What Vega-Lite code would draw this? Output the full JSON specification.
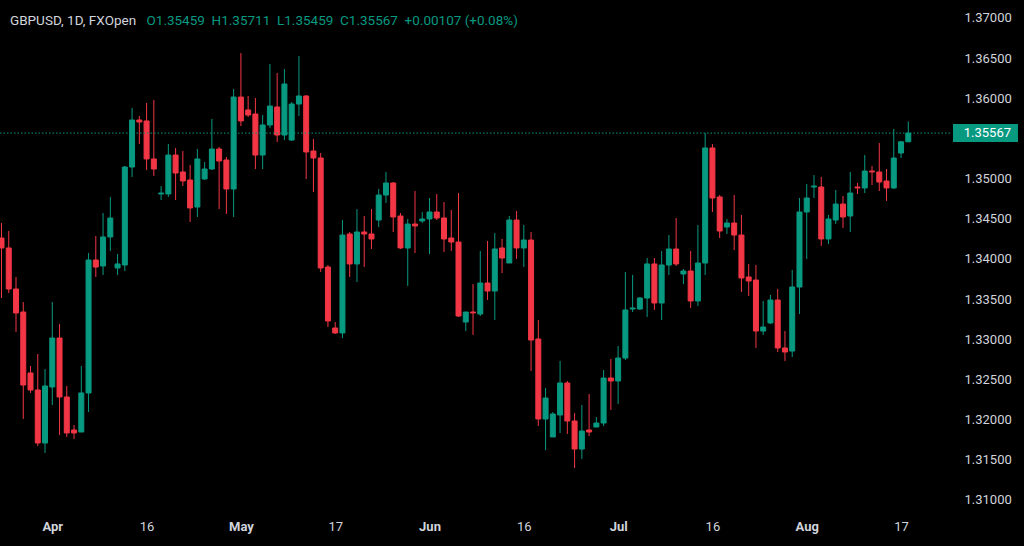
{
  "$schema": "https://vega.github.io/schema/vega-lite/v6.json",
  "width": 950,
  "height": 510,
  "autosize": {"type": "none"},
  "padding": {"left": 0, "top": 0, "right": 74, "bottom": 36},
  "background": "#000000",
  "title": {
    "text": "GBPUSD, 1D, FXOpen",
    "anchor": "start",
    "frame": "group",
    "dx": 10,
    "offset": -27,
    "color": "#d1d4dc",
    "font": "Roboto",
    "fontSize": 13.5,
    "fontWeight": "normal"
  },
  "data": {
    "values": [
      {"i": 0, "open": 1.34261, "high": 1.34448, "low": 1.33514, "close": 1.34137},
      {"i": 1, "open": 1.34137, "high": 1.34348, "low": 1.33576, "close": 1.33626},
      {"i": 2, "open": 1.33626, "high": 1.33776, "low": 1.33091, "close": 1.33328},
      {"i": 3, "open": 1.3334, "high": 1.33464, "low": 1.32008, "close": 1.32431},
      {"i": 4, "open": 1.32581, "high": 1.32668, "low": 1.32332, "close": 1.32369},
      {"i": 5, "open": 1.32369, "high": 1.32817, "low": 1.31672, "close": 1.31709},
      {"i": 6, "open": 1.31709, "high": 1.3263, "low": 1.31585, "close": 1.32419},
      {"i": 7, "open": 1.32406, "high": 1.33464, "low": 1.32182, "close": 1.33016},
      {"i": 8, "open": 1.33016, "high": 1.33191, "low": 1.31809, "close": 1.32282},
      {"i": 9, "open": 1.32282, "high": 1.32419, "low": 1.31784, "close": 1.31834},
      {"i": 10, "open": 1.31871, "high": 1.31933, "low": 1.31759, "close": 1.31834},
      {"i": 11, "open": 1.31846, "high": 1.32668, "low": 1.31846, "close": 1.32332},
      {"i": 12, "open": 1.32332, "high": 1.34074, "low": 1.32095, "close": 1.33987},
      {"i": 13, "open": 1.33987, "high": 1.34286, "low": 1.33776, "close": 1.339},
      {"i": 14, "open": 1.33913, "high": 1.34572, "low": 1.33801, "close": 1.34274},
      {"i": 15, "open": 1.34274, "high": 1.34772, "low": 1.34099, "close": 1.3451},
      {"i": 16, "open": 1.33888, "high": 1.34062, "low": 1.33801, "close": 1.33938},
      {"i": 17, "open": 1.33925, "high": 1.35158, "low": 1.3385, "close": 1.35145},
      {"i": 18, "open": 1.35145, "high": 1.3588, "low": 1.35021, "close": 1.3573},
      {"i": 19, "open": 1.3573, "high": 1.3578, "low": 1.35431, "close": 1.35705},
      {"i": 20, "open": 1.35718, "high": 1.35942, "low": 1.35108, "close": 1.35245},
      {"i": 21, "open": 1.35245, "high": 1.35979, "low": 1.35033, "close": 1.3512},
      {"i": 22, "open": 1.34809, "high": 1.34908, "low": 1.34734, "close": 1.34821},
      {"i": 23, "open": 1.34809, "high": 1.35431, "low": 1.34772, "close": 1.35294},
      {"i": 24, "open": 1.35294, "high": 1.35382, "low": 1.34734, "close": 1.3507},
      {"i": 25, "open": 1.35083, "high": 1.35344, "low": 1.34908, "close": 1.34971},
      {"i": 26, "open": 1.34983, "high": 1.3517, "low": 1.3446, "close": 1.34635},
      {"i": 27, "open": 1.34647, "high": 1.35369, "low": 1.34523, "close": 1.35245},
      {"i": 28, "open": 1.34996, "high": 1.35207, "low": 1.34983, "close": 1.3512},
      {"i": 29, "open": 1.3512, "high": 1.35743, "low": 1.35108, "close": 1.35369},
      {"i": 30, "open": 1.35369, "high": 1.35394, "low": 1.34622, "close": 1.3522},
      {"i": 31, "open": 1.35232, "high": 1.3527, "low": 1.3456, "close": 1.34871},
      {"i": 32, "open": 1.34871, "high": 1.36116, "low": 1.34523, "close": 1.36016},
      {"i": 33, "open": 1.36016, "high": 1.36564, "low": 1.35655, "close": 1.35718},
      {"i": 34, "open": 1.35855, "high": 1.36029, "low": 1.35768, "close": 1.35792},
      {"i": 35, "open": 1.35805, "high": 1.36004, "low": 1.3512, "close": 1.35294},
      {"i": 36, "open": 1.35294, "high": 1.35792, "low": 1.3512, "close": 1.35668},
      {"i": 37, "open": 1.35668, "high": 1.36427, "low": 1.35631, "close": 1.35904},
      {"i": 38, "open": 1.35892, "high": 1.36315, "low": 1.35456, "close": 1.35543},
      {"i": 39, "open": 1.35543, "high": 1.36365, "low": 1.35481, "close": 1.36178},
      {"i": 40, "open": 1.35481, "high": 1.35954, "low": 1.35469, "close": 1.35929},
      {"i": 41, "open": 1.35929, "high": 1.36527, "low": 1.3578, "close": 1.36029},
      {"i": 42, "open": 1.36029, "high": 1.36041, "low": 1.34996, "close": 1.35332},
      {"i": 43, "open": 1.35344, "high": 1.35494, "low": 1.34834, "close": 1.35257},
      {"i": 44, "open": 1.35257, "high": 1.35319, "low": 1.33838, "close": 1.33888},
      {"i": 45, "open": 1.339, "high": 1.33925, "low": 1.33153, "close": 1.33228},
      {"i": 46, "open": 1.33141, "high": 1.33215, "low": 1.33066, "close": 1.33079},
      {"i": 47, "open": 1.33079, "high": 1.34485, "low": 1.33016, "close": 1.34298},
      {"i": 48, "open": 1.34311, "high": 1.34336, "low": 1.33776, "close": 1.33938},
      {"i": 49, "open": 1.33938, "high": 1.34622, "low": 1.33713, "close": 1.34336},
      {"i": 50, "open": 1.34336, "high": 1.34535, "low": 1.339, "close": 1.34311},
      {"i": 51, "open": 1.34311, "high": 1.34622, "low": 1.34124, "close": 1.34249},
      {"i": 52, "open": 1.34485, "high": 1.34871, "low": 1.34398, "close": 1.34796},
      {"i": 53, "open": 1.34796, "high": 1.35083, "low": 1.34697, "close": 1.34946},
      {"i": 54, "open": 1.34946, "high": 1.34958, "low": 1.34336, "close": 1.34523},
      {"i": 55, "open": 1.34535, "high": 1.34572, "low": 1.34124, "close": 1.34137},
      {"i": 56, "open": 1.34137, "high": 1.34498, "low": 1.33664, "close": 1.34435},
      {"i": 57, "open": 1.34435, "high": 1.34846, "low": 1.34074, "close": 1.34411},
      {"i": 58, "open": 1.34473, "high": 1.34585, "low": 1.34448, "close": 1.34498},
      {"i": 59, "open": 1.34498, "high": 1.34759, "low": 1.34062, "close": 1.34585},
      {"i": 60, "open": 1.34585, "high": 1.34809, "low": 1.34485, "close": 1.3451},
      {"i": 61, "open": 1.3451, "high": 1.34709, "low": 1.34087, "close": 1.34249},
      {"i": 62, "open": 1.34261, "high": 1.3461, "low": 1.34099, "close": 1.34211},
      {"i": 63, "open": 1.34211, "high": 1.34821, "low": 1.33278, "close": 1.3329},
      {"i": 64, "open": 1.33215, "high": 1.3334, "low": 1.33103, "close": 1.3334},
      {"i": 65, "open": 1.3334, "high": 1.33688, "low": 1.33054, "close": 1.33328},
      {"i": 66, "open": 1.33315, "high": 1.34099, "low": 1.3329, "close": 1.33701},
      {"i": 67, "open": 1.33701, "high": 1.34224, "low": 1.33489, "close": 1.33601},
      {"i": 68, "open": 1.33601, "high": 1.34323, "low": 1.3324, "close": 1.34124},
      {"i": 69, "open": 1.34137, "high": 1.34249, "low": 1.33825, "close": 1.34012},
      {"i": 70, "open": 1.3395, "high": 1.34535, "low": 1.3395, "close": 1.34485},
      {"i": 71, "open": 1.34485, "high": 1.34597, "low": 1.34, "close": 1.34137},
      {"i": 72, "open": 1.34137, "high": 1.34423, "low": 1.339, "close": 1.34236},
      {"i": 73, "open": 1.34236, "high": 1.34336, "low": 1.32605, "close": 1.32991},
      {"i": 74, "open": 1.33004, "high": 1.3324, "low": 1.31921, "close": 1.32008},
      {"i": 75, "open": 1.32008, "high": 1.32394, "low": 1.31622, "close": 1.32269},
      {"i": 76, "open": 1.31784, "high": 1.32095, "low": 1.31784, "close": 1.3207},
      {"i": 77, "open": 1.32058, "high": 1.3273, "low": 1.31834, "close": 1.32456},
      {"i": 78, "open": 1.32456, "high": 1.32481, "low": 1.31821, "close": 1.31983},
      {"i": 79, "open": 1.31983, "high": 1.32083, "low": 1.31398, "close": 1.31634},
      {"i": 80, "open": 1.31634, "high": 1.32182, "low": 1.3151, "close": 1.31858},
      {"i": 81, "open": 1.31871, "high": 1.32319, "low": 1.31796, "close": 1.31846},
      {"i": 82, "open": 1.31908, "high": 1.32033, "low": 1.31908, "close": 1.31958},
      {"i": 83, "open": 1.31958, "high": 1.32618, "low": 1.31921, "close": 1.32518},
      {"i": 84, "open": 1.32518, "high": 1.32755, "low": 1.3212, "close": 1.32481},
      {"i": 85, "open": 1.32481, "high": 1.32917, "low": 1.32195, "close": 1.32767},
      {"i": 86, "open": 1.32767, "high": 1.33838, "low": 1.32742, "close": 1.33365},
      {"i": 87, "open": 1.33377, "high": 1.33801, "low": 1.3334, "close": 1.3339},
      {"i": 88, "open": 1.33377, "high": 1.33527, "low": 1.33365, "close": 1.33514},
      {"i": 89, "open": 1.33514, "high": 1.34012, "low": 1.33278, "close": 1.33938},
      {"i": 90, "open": 1.33938, "high": 1.34012, "low": 1.33365, "close": 1.33452},
      {"i": 91, "open": 1.33452, "high": 1.34099, "low": 1.3324, "close": 1.33925},
      {"i": 92, "open": 1.33925, "high": 1.34298, "low": 1.33801, "close": 1.34124},
      {"i": 93, "open": 1.34124, "high": 1.3451, "low": 1.33913, "close": 1.33938},
      {"i": 94, "open": 1.33813, "high": 1.33875, "low": 1.33688, "close": 1.3385},
      {"i": 95, "open": 1.3385, "high": 1.34099, "low": 1.3339, "close": 1.33477},
      {"i": 96, "open": 1.33477, "high": 1.34423, "low": 1.33415, "close": 1.3395},
      {"i": 97, "open": 1.3395, "high": 1.35568, "low": 1.33801, "close": 1.35382},
      {"i": 98, "open": 1.35382, "high": 1.35431, "low": 1.34585, "close": 1.34759},
      {"i": 99, "open": 1.34772, "high": 1.34796, "low": 1.34261, "close": 1.34348},
      {"i": 100, "open": 1.34398, "high": 1.34498, "low": 1.34311, "close": 1.34448},
      {"i": 101, "open": 1.34448, "high": 1.34796, "low": 1.34112, "close": 1.34298},
      {"i": 102, "open": 1.34298, "high": 1.34548, "low": 1.33589, "close": 1.33763},
      {"i": 103, "open": 1.33776, "high": 1.33938, "low": 1.33539, "close": 1.33726},
      {"i": 104, "open": 1.33738, "high": 1.33925, "low": 1.32892, "close": 1.33103},
      {"i": 105, "open": 1.33103, "high": 1.33477, "low": 1.33054, "close": 1.33153},
      {"i": 106, "open": 1.33203, "high": 1.33552, "low": 1.33191, "close": 1.33489},
      {"i": 107, "open": 1.33489, "high": 1.33626, "low": 1.32842, "close": 1.32892},
      {"i": 108, "open": 1.32892, "high": 1.33103, "low": 1.3273, "close": 1.32842},
      {"i": 109, "open": 1.32854, "high": 1.33863, "low": 1.3278, "close": 1.33651},
      {"i": 110, "open": 1.33651, "high": 1.34759, "low": 1.33315, "close": 1.34585},
      {"i": 111, "open": 1.34585, "high": 1.34933, "low": 1.34, "close": 1.34759},
      {"i": 112, "open": 1.34896, "high": 1.35045, "low": 1.34759, "close": 1.34908},
      {"i": 113, "open": 1.34896, "high": 1.35021, "low": 1.34162, "close": 1.34249},
      {"i": 114, "open": 1.34249, "high": 1.34548, "low": 1.34186, "close": 1.34498},
      {"i": 115, "open": 1.34485, "high": 1.34859, "low": 1.34435, "close": 1.34684},
      {"i": 116, "open": 1.34684, "high": 1.34784, "low": 1.34386, "close": 1.34523},
      {"i": 117, "open": 1.34535, "high": 1.35083, "low": 1.34336, "close": 1.34821},
      {"i": 118, "open": 1.34896, "high": 1.34946, "low": 1.34809, "close": 1.34884},
      {"i": 119, "open": 1.34884, "high": 1.35294, "low": 1.34821, "close": 1.35095},
      {"i": 120, "open": 1.35095, "high": 1.35158, "low": 1.34921, "close": 1.35083},
      {"i": 121, "open": 1.35083, "high": 1.35444, "low": 1.34846, "close": 1.34958},
      {"i": 122, "open": 1.34971, "high": 1.3512, "low": 1.34722, "close": 1.34884},
      {"i": 123, "open": 1.34884, "high": 1.35618, "low": 1.34871, "close": 1.35257},
      {"i": 124, "open": 1.35319, "high": 1.3547, "low": 1.35257, "close": 1.35459},
      {"i": 125, "open": 1.35459, "high": 1.35711, "low": 1.35459, "close": 1.35567}
    ]
  },
  "layer": [
    {
      "mark": {"type": "rule", "strokeWidth": 1},
      "encoding": {
        "x": {
          "field": "i",
          "type": "quantitative",
          "scale": {"domain": [-0.207, 130.75], "nice": false, "zero": false, "padding": 0},
          "axis": {
            "values": [7, 20, 33, 46, 59, 72, 85, 98, 111, 124],
            "labelExpr": "['Apr','16','May','17','Jun','16','Jul','16','Aug','17'][indexof([7,20,33,46,59,72,85,98,111,124], datum.value)]",
            "labelFontWeight": {"condition": {"test": "indexof([7,33,59,85,111], datum.value) >= 0", "value": "bold"}, "value": "normal"},
            "labelPadding": 10,
            "title": "O1.35459\u00a0\u00a0H1.35711\u00a0\u00a0L1.35459\u00a0\u00a0C1.35567\u00a0\u00a0+0.00107 (+0.08%)",
            "titleX": 146,
            "titleY": -486,
            "titleAlign": "left",
            "titleBaseline": "alphabetic",
            "titleColor": "#089981",
            "titleFont": "Roboto",
            "titleFontSize": 13.5,
            "titleFontWeight": "normal"
          }
        },
        "y": {
          "field": "low",
          "type": "quantitative",
          "scale": {"domain": [1.30875, 1.37224], "nice": false, "zero": false, "padding": 0},
          "axis": {
            "orient": "right",
            "values": [1.31, 1.315, 1.32, 1.325, 1.33, 1.335, 1.34, 1.345, 1.35, 1.36, 1.365, 1.37],
            "format": ".5f",
            "labelPadding": 14,
            "title": null
          }
        },
        "y2": {"field": "high"},
        "color": {"condition": {"test": "datum.close >= datum.open", "value": "#089981"}, "value": "#f23645"}
      }
    },
    {
      "mark": {"type": "bar", "width": 5, "strokeWidth": 1},
      "encoding": {
        "x": {"field": "i", "type": "quantitative"},
        "y": {"field": "open", "type": "quantitative"},
        "y2": {"field": "close"},
        "fill": {"condition": {"test": "datum.close >= datum.open", "value": "#089981"}, "value": "#f23645"},
        "stroke": {"condition": {"test": "datum.close >= datum.open", "value": "#089981"}, "value": "#f23645"}
      }
    },
    {
      "transform": [{"filter": "datum.i == 125"}],
      "mark": {"type": "rule", "strokeDash": [1.5, 2], "strokeWidth": 1, "color": "#089981"},
      "encoding": {"y": {"field": "close", "type": "quantitative"}}
    },
    {
      "transform": [{"filter": "datum.i == 125"}],
      "mark": {"type": "point", "shape": "M-1,-0.277L1,-0.277L1,0.277L-1,0.277Z", "filled": true, "size": 4225, "opacity": 1, "color": "#089981"},
      "encoding": {
        "x": {"datum": 135.64, "type": "quantitative"},
        "y": {"field": "close", "type": "quantitative"}
      }
    },
    {
      "transform": [{"filter": "datum.i == 125"}],
      "mark": {"type": "text", "color": "#ffffff", "font": "Roboto", "fontSize": 13, "align": "center", "baseline": "middle"},
      "encoding": {
        "x": {"datum": 135.9, "type": "quantitative"},
        "y": {"field": "close", "type": "quantitative"},
        "text": {"field": "close", "type": "quantitative", "format": ".5f"}
      }
    }
  ],
  "config": {
    "view": {"stroke": null},
    "axis": {
      "grid": false,
      "ticks": false,
      "domain": false,
      "labelColor": "#d1d4dc",
      "labelFont": "Roboto",
      "labelFontSize": 13,
      "labelOverlap": false,
      "labelFlush": false
    }
  }
}
